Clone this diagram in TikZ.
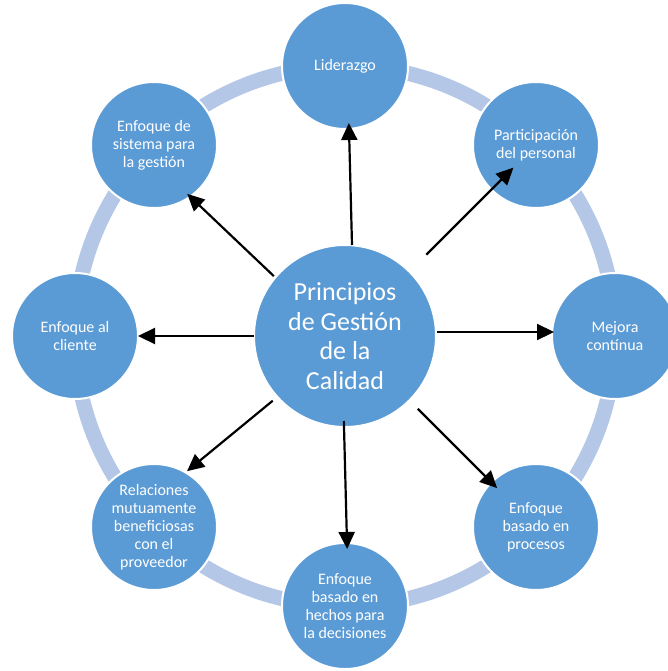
\documentclass[tikz,border=0pt]{standalone}
\usepackage{fontspec}
\setmainfont{Carlito}
\usetikzlibrary{arrows.meta}
\definecolor{bubble}{HTML}{5B9BD5}
\definecolor{ringblue}{HTML}{B4C7E7}
\tikzset{
  principle/.style={circle, fill=bubble, draw=white, line width=2pt,
    minimum size=126pt, inner sep=0pt, outer sep=0pt, align=center,
    text=white, font=\fontsize{16}{18}\selectfont},
  core/.style={principle, minimum size=182pt, font=\fontsize{26}{29.5}\selectfont},
  link/.style={-{Triangle[length=17pt,width=16pt]}, line width=2.2pt, black}
}
\begin{document}
\begin{tikzpicture}[x=1pt,y=-1pt]
\useasboundingbox (0,0) rectangle (668,671);
\coordinate (hub) at (345,336);
\draw [ringblue, line width=15pt] (hub) circle [radius=270];

\node[core] (ctr) at (hub) {Principios\\de Gestión\\de la\\Calidad};

\node[principle] (lid) at (345,66)  {Liderazgo};
\node[principle] (par) at (536,145) {Participación\\del personal};
\node[principle] (mej) at (615,336) {Mejora\\contínua};
\node[principle] (pro) at (536,527) {Enfoque\\basado en\\procesos};
\node[principle] (hec) at (345,606) {Enfoque\\basado en\\hechos para\\la decisiones};
\node[principle] (rel) at (154,527) {Relaciones\\mutuamente\\beneficiosas\\con el\\proveedor};
\node[principle] (cli) at (75,336)  {Enfoque al\\cliente};
\node[principle] (sis) at (154,145) {Enfoque de\\sistema para\\la gestión};

\draw [link, shorten >=-6pt] ([xshift=7pt]ctr.north) -- ([xshift=4pt]lid.south);
\draw [link, shorten <=24pt, shorten >=-31pt] (ctr) -- (par);
\draw [link, shorten <=1pt, shorten >=-2pt] ([yshift=4pt]ctr.east) -- ([yshift=4pt]mej.west);
\draw [link, shorten <=12pt, shorten >=-8pt] (ctr) -- (pro);
\draw [link, shorten <=-6pt, shorten >=-6pt] ([xshift=-1pt]ctr.south) -- ([xshift=2pt]hec.north);
\draw [link, shorten <=6pt, shorten >=2pt] (ctr.222) -- (rel.60);
\draw [link] (ctr.west) -- (cli.east);
\draw [link, shorten <=2pt, shorten >=-4pt] (ctr.140) -- (sis.305);
\end{tikzpicture}
\end{document}
